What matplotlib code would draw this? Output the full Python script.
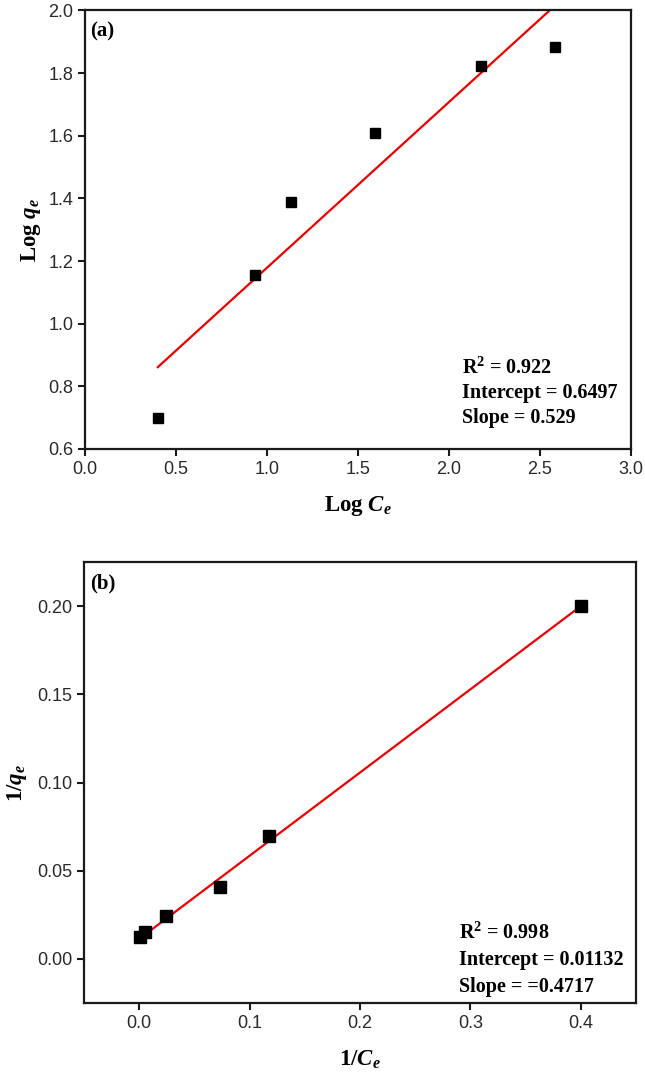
import numpy as np
import matplotlib
matplotlib.use('Agg')
import matplotlib.pyplot as plt

plt.rcParams['mathtext.fontset'] = 'custom'
plt.rcParams['mathtext.rm'] = 'Liberation Serif:bold'
plt.rcParams['mathtext.bf'] = 'Liberation Serif:bold'
plt.rcParams['mathtext.it'] = 'Liberation Serif:italic:bold'

# (a) Freundlich: log Ce vs log qe
log_ce = [0.40, 0.933, 1.132, 1.592, 2.178, 2.585]
log_qe = [0.698, 1.157, 1.388, 1.61, 1.824, 1.883]
fit_a = {'r2': '0.922', 'intercept': 0.6497, 'slope': 0.529}

# (b) Langmuir: 1/Ce vs 1/qe
inv_ce = [0.001, 0.0056, 0.0247, 0.0736, 0.1178, 0.400]
inv_qe = [0.0126, 0.015, 0.0243, 0.0408, 0.0695, 0.200]
fit_b = {'r2': '0.998', 'intercept': 0.01132, 'slope': 0.4717}

xticks_a = [0.0, 0.5, 1.0, 1.5, 2.0, 2.5, 3.0]
yticks_a = [0.6, 0.8, 1.0, 1.2, 1.4, 1.6, 1.8, 2.0]
xticks_b = [0.0, 0.1, 0.2, 0.3, 0.4]
yticks_b = [0.00, 0.05, 0.10, 0.15, 0.20]

serif = 'Liberation Serif'
sans = 'Liberation Sans'


def style(ax):
    for s in ax.spines.values():
        s.set_linewidth(1.6)
        s.set_color('#1a1a1a')
    ax.tick_params(direction='out', length=5, width=1.5, labelsize=13,
                   colors='#1a1a1a', labelcolor='#2a2a2a', top=False, right=False)
    for lab in ax.get_xticklabels() + ax.get_yticklabels():
        lab.set_fontfamily(sans)


fig = plt.figure(figsize=(6.45, 10.79), dpi=100)

# panel (a)
ax1 = fig.add_axes([0.1318, 0.5839, 0.8465, 0.4064])
xf = np.array([min(log_ce), max(log_ce)])
ax1.plot(xf, fit_a['intercept'] + fit_a['slope'] * xf, color='#ee0000', lw=1.6)
ax1.plot(log_ce, log_qe, 's', color='black', ms=7)
ax1.set_xlim(0, 3.0)
ax1.set_ylim(0.6, 2.0)
ax1.set_xticks(xticks_a)
ax1.set_yticks(yticks_a)
ax1.set_xticklabels(['%.1f' % v for v in xticks_a])
ax1.set_yticklabels(['%.1f' % v for v in yticks_a])
style(ax1)
ax1.set_xlabel(r'Log $C_e$', fontfamily=serif, fontweight='bold', fontsize=16.5, labelpad=12)
ax1.set_ylabel(r'Log $q_e$', fontfamily=serif, fontweight='bold', fontsize=16.5, labelpad=4)
ax1.text(0.01, 0.953, '(a)', transform=ax1.transAxes, fontfamily=serif,
         fontweight='bold', fontsize=15, va='center', ha='left')
txt_a = [r'R$^2$ = ' + fit_a['r2'], 'Intercept = %.4f' % fit_a['intercept'],
         'Slope = %.3f' % fit_a['slope']]
for i, t in enumerate(txt_a):
    ax1.text(0.69, 0.185 - i * 0.057, t, transform=ax1.transAxes, fontfamily=serif,
             fontweight='bold', fontsize=14.5, va='center', ha='left')

# panel (b)
ax2 = fig.add_axes([0.1302, 0.0704, 0.8558, 0.4087])
xf = np.array([min(inv_ce), max(inv_ce)])
ax2.plot(xf, fit_b['intercept'] + fit_b['slope'] * xf, color='#ee0000', lw=1.6)
ax2.plot(inv_ce, inv_qe, 's', color='black', ms=8.5)
ax2.set_xlim(-0.05, 0.45)
ax2.set_ylim(-0.025, 0.225)
ax2.set_xticks(xticks_b)
ax2.set_yticks(yticks_b)
ax2.set_xticklabels(['%.1f' % v for v in xticks_b])
ax2.set_yticklabels(['%.2f' % v for v in yticks_b])
style(ax2)
ax2.set_xlabel(r'1/$C_e$', fontfamily=serif, fontweight='bold', fontsize=16.5, labelpad=12)
ax2.set_ylabel(r'1/$q_e$', fontfamily=serif, fontweight='bold', fontsize=16.5, labelpad=6)
ax2.text(0.012, 0.952, '(b)', transform=ax2.transAxes, fontfamily=serif,
         fontweight='bold', fontsize=15, va='center', ha='left')
txt_b = [r'R$^2$ = ' + fit_b['r2'], 'Intercept = %.5f' % fit_b['intercept'],
         'Slope = =%.4f' % fit_b['slope']]
for i, t in enumerate(txt_b):
    ax2.text(0.679, 0.159 - i * 0.0615, t, transform=ax2.transAxes, fontfamily=serif,
             fontweight='bold', fontsize=14.5, va='center', ha='left')

fig.savefig('out.png', dpi=100)
